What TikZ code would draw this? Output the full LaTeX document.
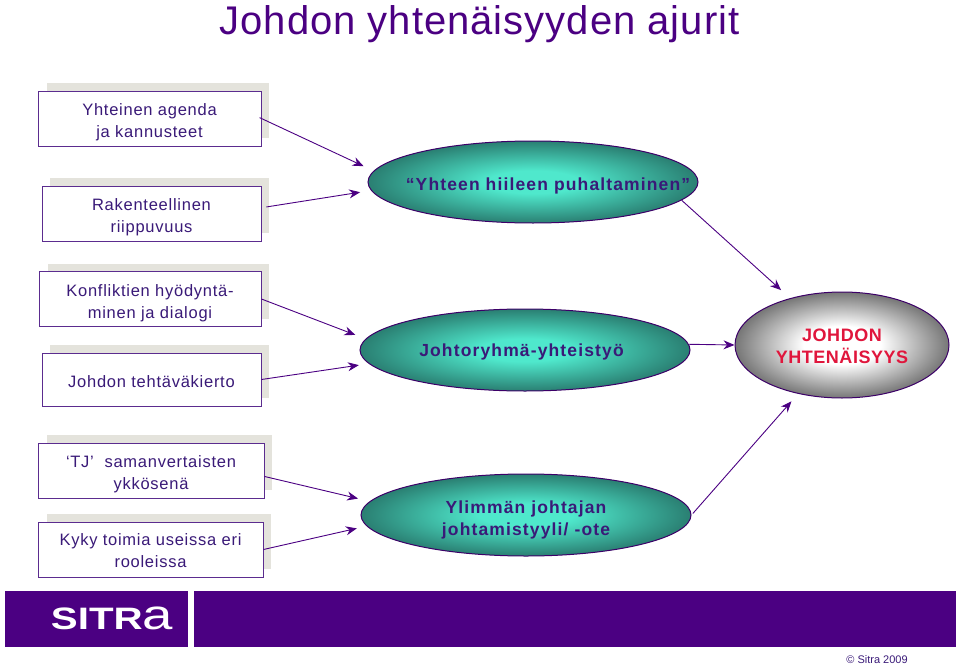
\documentclass[tikz,border=0pt]{standalone}
\usepackage{fontspec}
\setmainfont{Liberation Sans}
\newfontfamily\drvfont[LetterSpace=4.5]{Liberation Sans}
\newfontfamily\ovalfont[LetterSpace=6.5]{Liberation Sans}
\newfontfamily\redfont[LetterSpace=3]{Liberation Sans}
\newfontfamily\titlefont[LetterSpace=2.5]{Liberation Sans}
\usetikzlibrary{arrows.meta,shapes.geometric}
\definecolor{sitra}{HTML}{4B0082}
\definecolor{boxline}{HTML}{5B2C8F}
\definecolor{shadowgrey}{HTML}{E4E3DC}
\definecolor{tealout}{HTML}{2A7F72}
\definecolor{tealin}{HTML}{4FE8CC}
\definecolor{greyout}{HTML}{767676}
\definecolor{johdonred}{HTML}{E0163C}
\definecolor{textink}{HTML}{3A1A78}
\pgfdeclareradialshading{tealglow}{\pgfpointorigin}{color(0bp)=(tealin); color(7bp)=(tealin); color(25bp)=(tealout); color(50bp)=(tealout)}
\pgfdeclareradialshading{whiteglow}{\pgfpointorigin}{color(0bp)=(white); color(9bp)=(white); color(25bp)=(greyout); color(50bp)=(greyout)}
\tikzset{
  shadowbox/.style={fill=shadowgrey, draw=none, anchor=north west, inner sep=0pt, minimum height=55pt},
  driver/.style={draw=boxline, fill=white, line width=0.9pt, align=center, text=textink,
    font=\fontsize{16.5}{22}\drvfont, inner sep=0pt, minimum height=55pt, text height=42pt},
  oval/.style={ellipse, draw=sitra!80!black, line width=1pt, align=center, inner sep=0pt},
  teal/.style={oval, shading=tealglow, text=textink, minimum width=330pt, minimum height=82pt,
    font=\fontsize{17.5}{22}\ovalfont\bfseries},
  op/.style={-{Stealth[length=11pt,width=9pt]}, draw=sitra, line width=0.9pt},
  band/.style={fill=sitra, draw=none, inner sep=0pt, anchor=north west, minimum height=56pt}
}
\begin{document}
\begin{tikzpicture}[x=1pt,y=-1pt]
\useasboundingbox (0,0) rectangle (960,666);
\node[text=sitra, font=\fontsize{40}{42}\titlefont] (title) at (479.5,24) {Johdon yhtenäisyyden ajurit};
% left column
\node[shadowbox, minimum width=222pt] (s1) at (47,83) {};
\node[shadowbox, minimum width=219pt] (s2) at (50,178) {};
\node[shadowbox, minimum width=221pt] (s3) at (48,264) {};
\node[shadowbox, minimum width=219pt, minimum height=53pt] (s4) at (50,345) {};
\node[shadowbox, minimum width=225pt] (s5) at (47,435) {};
\node[shadowbox, minimum width=224pt] (s6) at (47,514) {};
\node[driver, minimum width=223pt] (agenda) at (149.5,118.5) {Yhteinen agenda\\ja kannusteet};
\node[driver, minimum width=219pt] (riippu) at (151.5,213.5) {Rakenteellinen\\riippuvuus};
\node[driver, minimum width=222pt] (konflikti) at (150,299) {Konfliktien hyödyntä-\\minen ja dialogi};
\node[driver, minimum width=219pt, minimum height=53pt, text height=16pt] (tehtava) at (151.5,379.5) {Johdon tehtäväkierto};
\node[driver, minimum width=226pt] (tj) at (151,470.5) {‘TJ’\ \ samanvertaisten\\ykkösenä};
\node[driver, minimum width=225pt, text height=37pt] (kyky) at (150.5,549.5) {Kyky toimia useissa eri\\rooleissa};
% ellipses
\node[teal, text height=20pt] (hiili) at (533,182) {\makebox[0pt]{\hspace*{30pt}“Yhteen hiileen puhaltaminen”}};
\node[teal, text height=17pt] (johto) at (525,350) {\hspace*{-7pt}Johtoryhmä-yhteistyö};
\node[teal, text height=44pt] (ylin) at (526,515) {Ylimmän johtajan\\johtamistyyli/ -ote};
\node[oval, shading=whiteglow, minimum width=214pt, minimum height=106pt, text=johdonred,
  text height=38pt, font=\fontsize{18}{22}\redfont\bfseries] (johdon) at (842,345) {JOHDON\\YHTENÄISYYS};
% arrows
\draw[op, shorten <=-2pt, shorten >=11pt] (agenda.east) -- (hiili.176);
\draw[op, shorten <=5pt, shorten >=11pt] (riippu.3) -- (hiili.183);
\draw[op, shorten >=11pt] (konflikti.east) -- (johto.176);
\draw[op, shorten >=10pt] (tehtava.east) -- (johto.185);
\draw[op, shorten >=12pt] (tj.-3) -- (ylin.175);
\draw[op, shorten >=10pt] (kyky.east) -- (ylin.184);
\draw[op, shorten >=12pt] (hiili.-7) -- (johdon.138);
\draw[op] (johto.2) -- (johdon.west);
\draw[op, shorten <=2pt, shorten >=10pt] (ylin.east) -- (johdon.228);
% footer
\node[band, minimum width=183pt] (bandl) at (5,591) {};
\node[band, minimum width=762pt] (bandr) at (194,591) {};
\node[text=white, font=\fontsize{31}{33}\selectfont\bfseries, xscale=1.3] (logo) at (112,618) {SITR{\fontsize{42}{33}\selectfont\mdseries a}};
\node[text=textink, font=\fontsize{11}{12}\selectfont] (copy) at (877,660) {© Sitra 2009};
\end{tikzpicture}
\end{document}
